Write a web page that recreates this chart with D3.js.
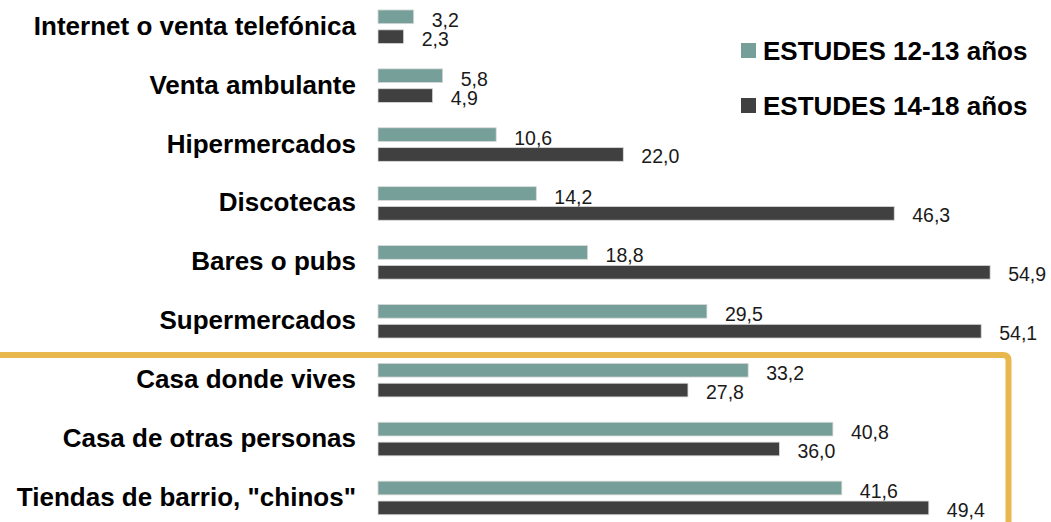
<!DOCTYPE html>
<html lang="es">
<head>
<meta charset="UTF-8">
<title>ESTUDES</title>
<script src="https://cdn.jsdelivr.net/npm/d3@7"></script>
<style>
  body { margin: 0; background: #fff; }
  svg { display: block; }
</style>
</head>
<body>
<svg id="chart" width="1051" height="522"></svg>
<script>
// categories top to bottom
const categories = [
  "Internet o venta telefónica",
  "Venta ambulante",
  "Hipermercados",
  "Discotecas",
  "Bares o pubs",
  "Supermercados",
  "Casa donde vives",
  "Casa de otras personas",
  "Tiendas de barrio, \"chinos\""
]
const series = ["ESTUDES 12-13 años", "ESTUDES 14-18 años"]
const values1213 = [3.2, 5.8, 10.6, 14.2, 18.8, 29.5, 33.2, 40.8, 41.6]
const values1418 = [2.3, 4.9, 22.0, 46.3, 54.9, 54.1, 27.8, 36.0, 49.4]
const colors = ["#759f98", "#404040"]

let svg = d3.select("#chart")

let x = d3.scaleLinear().domain([0, 60]).range([378, 1047])

let y = d3.scaleBand()
    .domain(categories)
    .range([-2.7, 527.4])
    .paddingInner(0.43)
    .paddingOuter(0.215)

let ys = d3.scaleBand()
    .domain(series)
    .range([0, y.bandwidth()])
    .paddingInner(0.31)

let rows = categories.map((c, i) => ({
    cat: c,
    vals: [values1213[i], values1418[i]]
}))

// highlight box around the last three categories
svg.append("path")
    .attr("d", "M0,355 H1003 Q1008.5,355 1008.5,360.5 V522")
    .attr("fill", "none")
    .attr("stroke", "#e8b74e")
    .attr("stroke-width", 6)

let g = svg.selectAll("g.row").data(rows)
    .enter().append("g")
    .attr("class", "row")
    .attr("transform", d => `translate(0,${y(d.cat)})`)

g.selectAll("rect").data(d => d.vals.map((v, j) => ({ v, s: series[j], j })))
    .enter().append("rect")
    .attr("x", x(0))
    .attr("y", d => ys(d.s))
    .attr("width", d => x(d.v) - x(0))
    .attr("height", ys.bandwidth())
    .attr("fill", d => colors[d.j])
    .attr("stroke", "#d9d9d9")
    .attr("stroke-width", 0.8)

g.selectAll("text.val").data(d => d.vals.map((v, j) => ({ v, s: series[j], j })))
    .enter().append("text")
    .attr("class", "val")
    .attr("x", d => x(d.v) + 18)
    .attr("y", d => ys(d.s) + ys.bandwidth() / 2 + (d.j == 0 ? 3 : 2))
    .attr("dominant-baseline", "central")
    .attr("font-family", "Liberation Sans, Arial, sans-serif")
    .attr("font-size", 19.5)
    .attr("fill", "#1a1a1a")
    .text(d => d.v.toFixed(1).replace(".", ","))

// category labels
g.append("text")
    .attr("x", 356)
    .attr("y", y.bandwidth() / 2 - 1)
    .attr("dominant-baseline", "central")
    .attr("text-anchor", "end")
    .attr("font-family", "Liberation Sans, Arial, sans-serif")
    .attr("font-weight", "bold")
    .attr("font-size", 26)
    .attr("fill", "#000")
    .text(d => d.cat)

// legend
let legend = svg.selectAll("g.leg").data(series)
    .enter().append("g")
    .attr("class", "leg")
    .attr("transform", (d, i) => `translate(741,${43 + i * 55})`)

legend.append("rect")
    .attr("width", 15)
    .attr("height", 15)
    .attr("fill", (d, i) => colors[i])

legend.append("text")
    .attr("x", 22)
    .attr("y", 8)
    .attr("dominant-baseline", "central")
    .attr("font-family", "Liberation Sans, Arial, sans-serif")
    .attr("font-weight", "bold")
    .attr("font-size", 26)
    .attr("fill", "#000")
    .text(d => d)
</script>
</body>
</html>
